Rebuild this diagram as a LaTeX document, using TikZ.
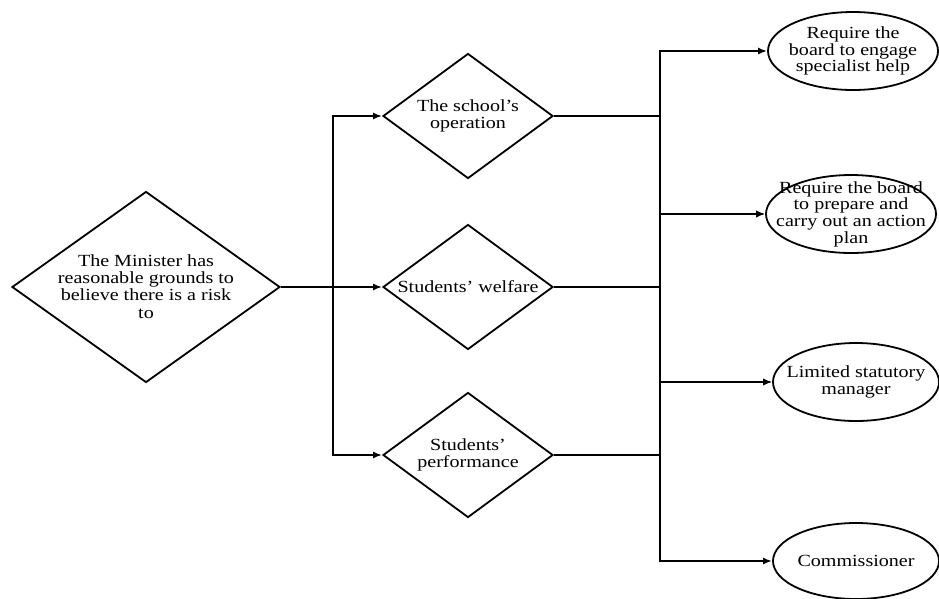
\documentclass[tikz,border=0pt]{standalone}
\usepackage{fontspec}
\setmainfont{Liberation Serif}[FakeStretch=1.18]
\usepackage{tikz}
\usetikzlibrary{
	shapes.geometric,
	arrows.meta
}

\tikzset{
	choice/.style={diamond,draw,line width=1.8pt,inner sep=0pt,minimum width=170pt,minimum height=125pt},
	outcome/.style={ellipse,draw,line width=1.8pt,inner sep=0pt,minimum width=170pt,minimum height=78pt},
	txt/.style={align=center,inner sep=0pt,font=\fontsize{17pt}{16.7pt}\selectfont},
	link/.style={line width=1.8pt,-{Latex[length=9pt,width=7pt]}}
}

\begin{document}
\begin{tikzpicture}[x=1pt,y=-1pt]
	\useasboundingbox (0,0) rectangle (939,598);
	\draw
		node [choice,minimum width=268pt,minimum height=191pt,
			label={[txt]center:The Minister has\\reasonable grounds to\\believe there is a risk\\[2pt]to}] (risk) at (146,287) {}
		node [choice,label={[txt]center:The school’s\\operation}]            (op)   at (468,116) {}
		node [choice,label={[txt]center:Students’ welfare}]                  (wel)  at (468,287) {}
		node [choice,label={[txt]center:Students’\\performance}]             (perf) at (468,455) {}

		node [outcome,label={[txt]center:Require the\\board to engage\\specialist help}]                  (help)  at (853,51)  {}
		node [outcome,label={[txt]center:Require the board\\to prepare and\\carry out an action\\plan}]   (plan)  at (851,214) {}
		node [outcome,minimum width=166pt,label={[txt]center:Limited statutory\\manager}]                (lsm)   at (856,382) {}
		node [outcome,minimum width=166pt,minimum height=76pt,label={[txt]center:Commissioner}]         (comm)  at (856,561) {}
	;

	% left fork
	\draw[link] (risk.east) -- (wel.west);
	\draw[link] (risk.east) -- ++(52,0) |- (op.west);
	\draw[link] (risk.east) -- ++(52,0) |- (perf.west);

	% right fork
	\coordinate (bus) at (660,0);
	\draw[link] (op.east)   -- (op.east -| bus)   |- (help.west);
	\draw[link] (op.east)   -- (op.east -| bus)   |- (plan.west);
	\draw[link] (wel.east)  -- (wel.east -| bus)  |- (plan.west);
	\draw[link] (wel.east)  -- (wel.east -| bus)  |- (lsm.west);
	\draw[link] (perf.east) -- (perf.east -| bus) |- (lsm.west);
	\draw[link] (perf.east) -- (perf.east -| bus) |- (comm.west);
\end{tikzpicture}
\end{document}
